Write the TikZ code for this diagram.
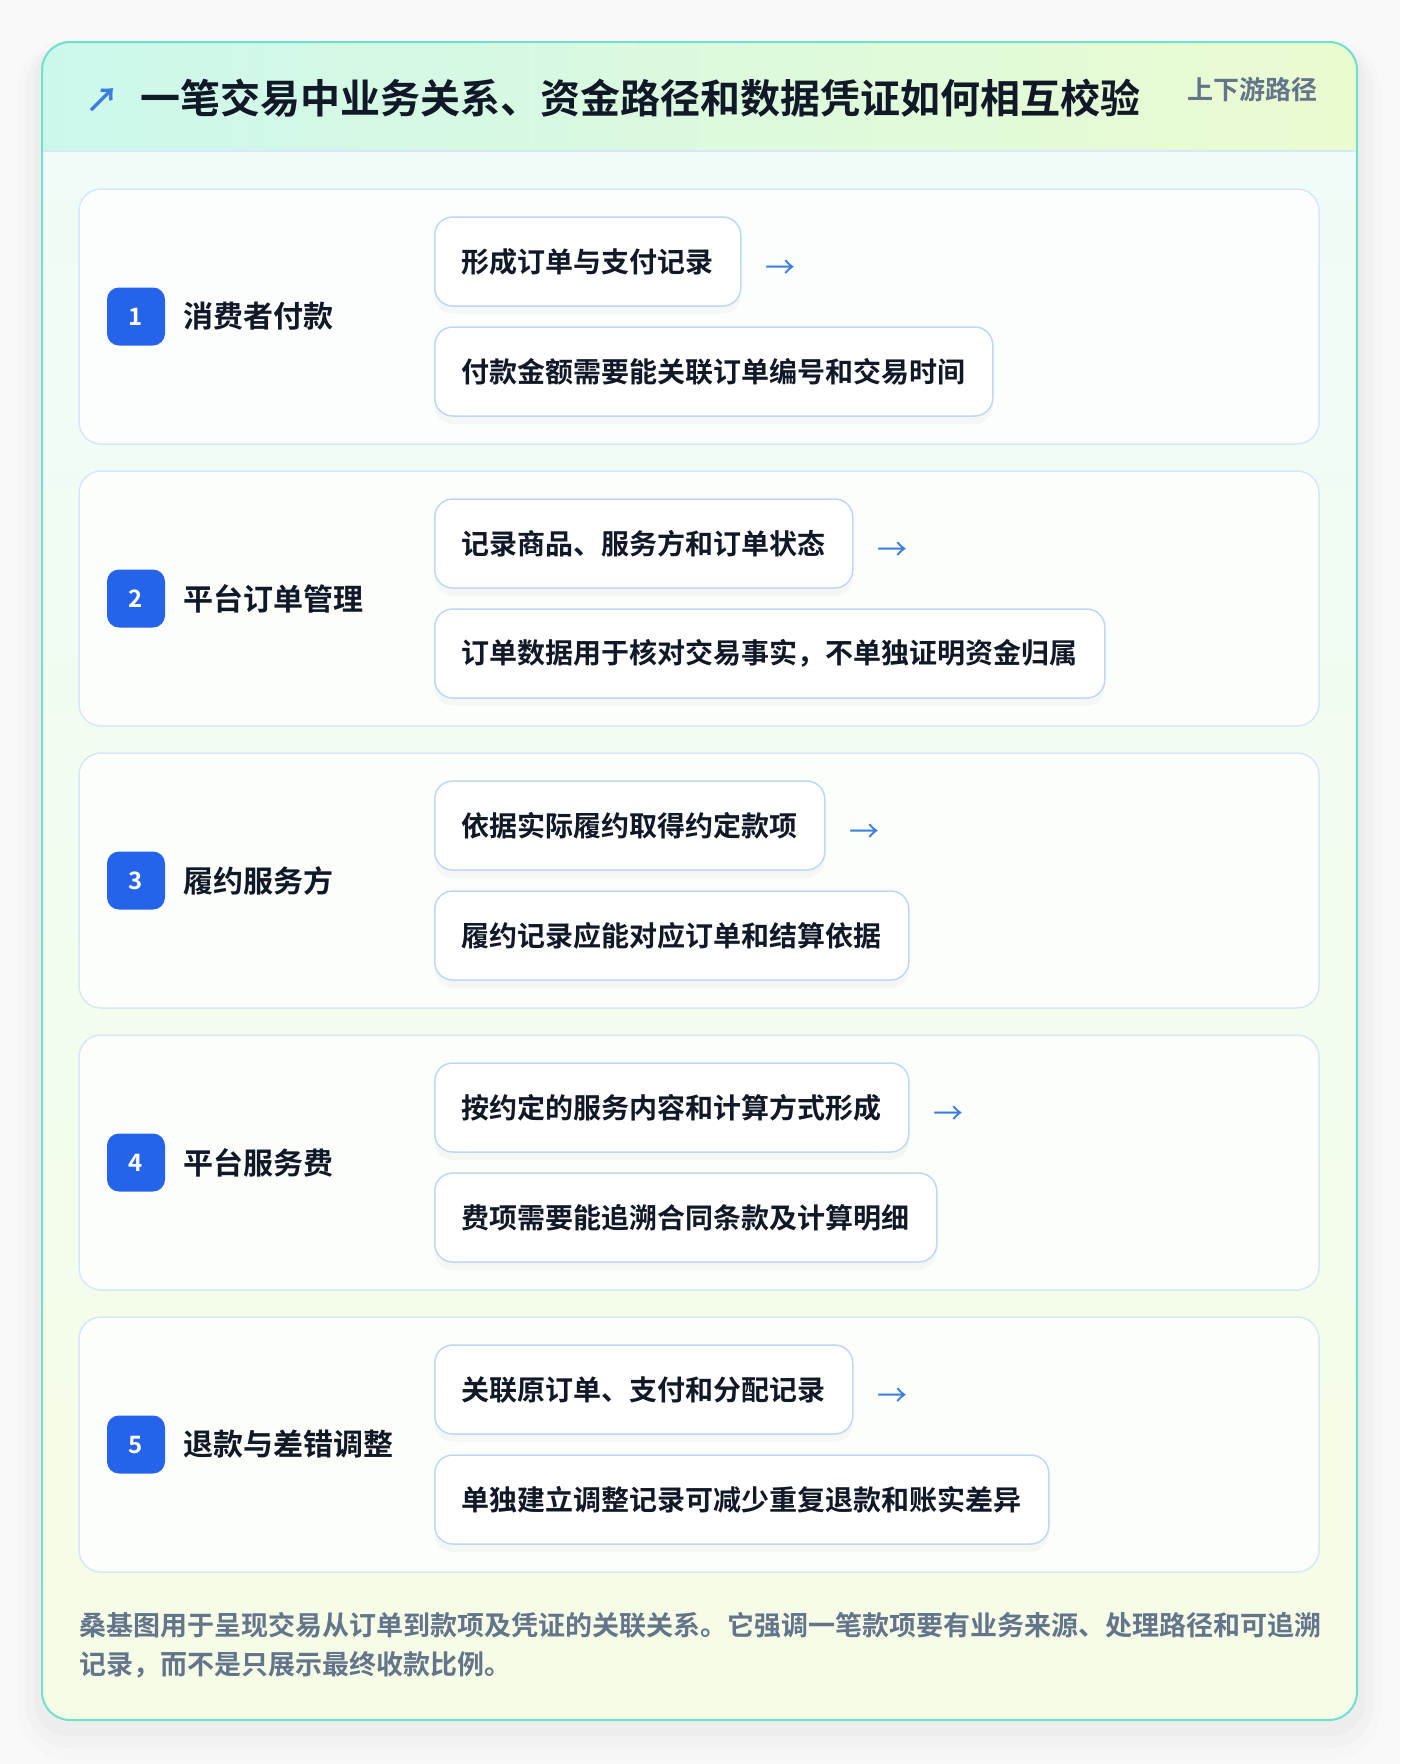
\documentclass[tikz,border=0pt]{standalone}
\usepackage{fontspec}
\setmainfont{Noto Sans CJK SC}[BoldFont={Noto Sans CJK SC Bold}]
\usetikzlibrary{positioning,shadows}

\definecolor{pagebg}{HTML}{F9F9FA}
\definecolor{cardline}{HTML}{6EE0CC}
\definecolor{headl}{HTML}{CCF8EC}
\definecolor{headr}{HTML}{EBFBD0}
\definecolor{bodyt}{HTML}{EFFCF7}
\definecolor{bodyb}{HTML}{F6FDE6}
\definecolor{rowline}{HTML}{D8E6FA}
\definecolor{boxline}{HTML}{BFD7F7}
\definecolor{badgeblue}{HTML}{2563EB}
\definecolor{arrowblue}{HTML}{3B7DDD}
\definecolor{inkdark}{HTML}{111827}
\definecolor{inkgray}{HTML}{64748B}

\begin{document}
\begin{tikzpicture}[x=1pt, y=-1pt,
  rowbox/.style={draw=rowline, line width=1.5pt, fill=white, fill opacity=0.75, rounded corners=22pt, minimum width=1240pt, minimum height=255pt, inner sep=0pt},
  stepbox/.style={draw=boxline, line width=1.5pt, fill=white, rounded corners=18pt, minimum height=89pt, inner xsep=27pt, inner ysep=0pt, anchor=west, text=inkdark, font=\fontsize{28}{34}\selectfont\bfseries, drop shadow={opacity=0.05, shadow xshift=0pt, shadow yshift=-8pt}},
  badge/.style={fill=badgeblue, rounded corners=12pt, minimum size=58pt, inner sep=0pt, text=white, font=\fontsize{24}{24}\selectfont\bfseries},
  rowlabel/.style={anchor=west, inner sep=0pt, text=inkdark, font=\fontsize{30}{36}\selectfont\bfseries},
  flowarrow/.style={inner sep=0pt, anchor=west, text=arrowblue, font=\fontsize{30}{34}\selectfont},
  foottext/.style={anchor=west, inner sep=0pt, text=inkgray, font=\fontsize{27}{40}\selectfont\bfseries}]

\useasboundingbox (0,0) rectangle (1400,1764);
\fill[pagebg] (0,0) rectangle (1400,1764);

% card shadow
\fill[black, opacity=0.012, rounded corners=50pt] (18,40) rectangle (1381,1760);
\fill[black, opacity=0.015, rounded corners=42pt] (26,44) rectangle (1373,1748);
\fill[black, opacity=0.018, rounded corners=34pt] (34,46) rectangle (1365,1736);

% card
\begin{scope}
\clip[rounded corners=28pt] (42,42) rectangle (1357,1720);
\shade[top color=bodyt, bottom color=bodyb] (42,151) rectangle (1357,1720);
\shade[left color=headl, right color=headr] (42,42) rectangle (1357,151);
\draw[rowline, line width=2pt] (42,151) -- (1357,151);
\end{scope}
\draw[cardline, line width=2pt, rounded corners=28pt] (42,42) rectangle (1357,1720);

\node[text=arrowblue, font=\fontsize{34}{34}\selectfont\bfseries] (icon) at (102,100) {↗};
\node[anchor=west, inner sep=0pt, text=inkdark, font=\fontsize{40}{48}\selectfont\bfseries] (title) at (140,98) {一笔交易中业务关系、资金路径和数据凭证如何相互校验};
\node[anchor=east, inner sep=0pt, text=inkgray, font=\fontsize{26}{30}\selectfont\bfseries] (tag) at (1318,90) {上下游路径};

% row 1
\node[rowbox] (row1) at (699,316.5) {};
\node[badge] (badge1) at (136,316.5) {1};
\node[rowlabel] (lab1) at (183,316.5) {消费者付款};
\node[stepbox] (top1) at (434,261.5) {形成订单与支付记录};
\node[stepbox] (bot1) at (434,371.5) {付款金额需要能关联订单编号和交易时间};
\node[flowarrow, right=24pt of top1, yshift=-8pt] (arr1) {→};

% row 2
\node[rowbox] (row2) at (699,598.5) {};
\node[badge] (badge2) at (136,598.5) {2};
\node[rowlabel] (lab2) at (183,598.5) {平台订单管理};
\node[stepbox] (top2) at (434,543.5) {记录商品、服务方和订单状态};
\node[stepbox] (bot2) at (434,653.5) {订单数据用于核对交易事实，不单独证明资金归属};
\node[flowarrow, right=24pt of top2, yshift=-8pt] (arr2) {→};

% row 3
\node[rowbox] (row3) at (699,880.5) {};
\node[badge] (badge3) at (136,880.5) {3};
\node[rowlabel] (lab3) at (183,880.5) {履约服务方};
\node[stepbox] (top3) at (434,825.5) {依据实际履约取得约定款项};
\node[stepbox] (bot3) at (434,935.5) {履约记录应能对应订单和结算依据};
\node[flowarrow, right=24pt of top3, yshift=-8pt] (arr3) {→};

% row 4
\node[rowbox] (row4) at (699,1162.5) {};
\node[badge] (badge4) at (136,1162.5) {4};
\node[rowlabel] (lab4) at (183,1162.5) {平台服务费};
\node[stepbox] (top4) at (434,1107.5) {按约定的服务内容和计算方式形成};
\node[stepbox] (bot4) at (434,1217.5) {费项需要能追溯合同条款及计算明细};
\node[flowarrow, right=24pt of top4, yshift=-8pt] (arr4) {→};

% row 5
\node[rowbox] (row5) at (699,1444.5) {};
\node[badge] (badge5) at (136,1444.5) {5};
\node[rowlabel] (lab5) at (183,1444.5) {退款与差错调整};
\node[stepbox] (top5) at (434,1389.5) {关联原订单、支付和分配记录};
\node[stepbox] (bot5) at (434,1499.5) {单独建立调整记录可减少重复退款和账实差异};
\node[flowarrow, right=24pt of top5, yshift=-8pt] (arr5) {→};

\node[foottext] (foot1) at (79,1625) {桑基图用于呈现交易从订单到款项及凭证的关联关系。它强调一笔款项要有业务来源、处理路径和可追溯};
\node[foottext] (foot2) at (79,1665) {记录，而不是只展示最终收款比例。};
\end{tikzpicture}
\end{document}
